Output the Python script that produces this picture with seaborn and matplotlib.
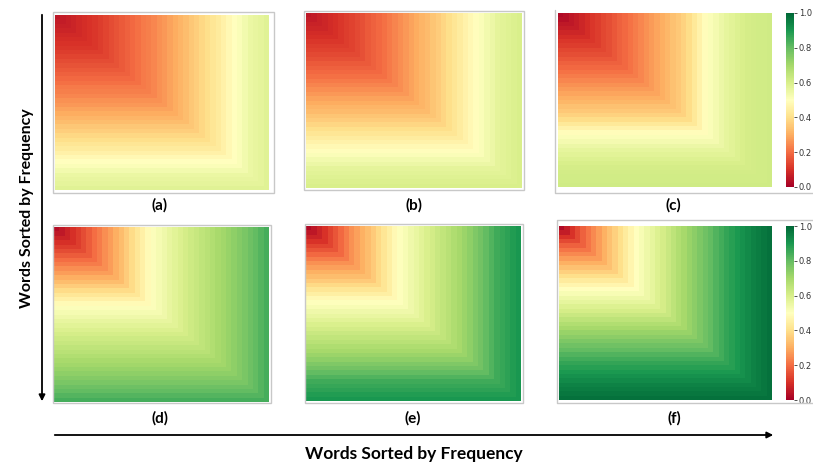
import numpy as np
import matplotlib
matplotlib.use("Agg")
import matplotlib.pyplot as plt
import seaborn as sns
from matplotlib.patches import Rectangle

sns.set_theme(style="white")
plt.rcParams["font.family"] = ["Lato", "DejaVu Sans"]

# valor por rango de palabra (0 = más frecuente, 40 rangos)
perfil_a = [0.050, 0.059, 0.068, 0.077, 0.086, 0.095, 0.104, 0.113, 0.122, 0.134,
            0.147, 0.159, 0.171, 0.183, 0.195, 0.207, 0.219, 0.230, 0.242, 0.254,
            0.268, 0.283, 0.298, 0.314, 0.331, 0.348, 0.366, 0.383, 0.401, 0.419,
            0.437, 0.457, 0.477, 0.497, 0.515, 0.534, 0.551, 0.561, 0.570, 0.580]
perfil_b = [0.050, 0.060, 0.071, 0.081, 0.091, 0.101, 0.112, 0.122, 0.132, 0.144,
            0.156, 0.168, 0.180, 0.192, 0.205, 0.221, 0.236, 0.252, 0.267, 0.282,
            0.298, 0.313, 0.328, 0.344, 0.362, 0.381, 0.400, 0.419, 0.438, 0.458,
            0.477, 0.496, 0.514, 0.532, 0.550, 0.568, 0.577, 0.585, 0.592, 0.600]
perfil_c = [0.020, 0.035, 0.051, 0.066, 0.081, 0.096, 0.110, 0.124, 0.138, 0.152,
            0.166, 0.180, 0.195, 0.210, 0.225, 0.241, 0.256, 0.272, 0.287, 0.302,
            0.319, 0.337, 0.355, 0.373, 0.398, 0.429, 0.460, 0.491, 0.513, 0.531,
            0.548, 0.566, 0.578, 0.588, 0.599, 0.609, 0.612, 0.615, 0.617, 0.620]
perfil_d = [0.030, 0.053, 0.076, 0.099, 0.123, 0.148, 0.174, 0.200, 0.225, 0.251,
            0.276, 0.302, 0.329, 0.360, 0.391, 0.422, 0.452, 0.483, 0.508, 0.525,
            0.542, 0.559, 0.576, 0.593, 0.608, 0.622, 0.636, 0.649, 0.663, 0.677,
            0.692, 0.707, 0.722, 0.738, 0.753, 0.768, 0.786, 0.804, 0.822, 0.840]
perfil_e = [0.020, 0.048, 0.076, 0.105, 0.133, 0.164, 0.195, 0.225, 0.255, 0.281,
            0.306, 0.332, 0.359, 0.388, 0.418, 0.448, 0.477, 0.504, 0.522, 0.540,
            0.558, 0.576, 0.595, 0.613, 0.630, 0.647, 0.664, 0.682, 0.699, 0.716,
            0.737, 0.759, 0.781, 0.803, 0.826, 0.848, 0.862, 0.874, 0.887, 0.900]
perfil_f = [0.020, 0.061, 0.102, 0.143, 0.183, 0.214, 0.245, 0.275, 0.306, 0.339,
            0.371, 0.401, 0.435, 0.467, 0.499, 0.520, 0.543, 0.565, 0.587, 0.609,
            0.631, 0.653, 0.676, 0.698, 0.720, 0.742, 0.763, 0.784, 0.804, 0.825,
            0.845, 0.866, 0.882, 0.898, 0.913, 0.928, 0.942, 0.954, 0.967, 0.980]

etiquetas = ["(a)", "(b)", "(c)", "(d)", "(e)", "(f)"]
perfiles = [perfil_a, perfil_b, perfil_c, perfil_d, perfil_e, perfil_f]
titulo_eje = "Words Sorted by Frequency"

W, H = 813, 463
fig = plt.figure(figsize=(W / 100, H / 100), dpi=100)


def caja(x0, y0, x1, y1):
    # de píxeles (origen arriba-izquierda) a fracción de figura
    return [x0 / W, 1 - y1 / H, (x1 - x0) / W, (y1 - y0) / H]


# posiciones en píxeles de cada mapa de calor
mapas = [(55, 15, 269, 190), (306, 13, 522, 188), (558, 13, 772, 187),
         (54, 227, 269, 402), (306, 226, 521, 401), (559, 226, 772, 400)]
barras = {2: (786, 13, 794, 187), 5: (786, 226, 794, 400)}

for i, (perfil, pos) in enumerate(zip(perfiles, mapas)):
    p = np.asarray(perfil)
    n = len(p)
    # celda (i, j) = valor del rango max(i, j)
    idx = np.maximum.outer(np.arange(n), np.arange(n))
    mat = p[idx]
    ax = fig.add_axes(caja(*pos))
    if i in barras:
        cax = fig.add_axes(caja(*barras[i]))
        sns.heatmap(mat, ax=ax, cmap="RdYlGn", vmin=0, vmax=1, cbar=True, cbar_ax=cax,
                    xticklabels=False, yticklabels=False)
        cax.set_yticks([0, 0.2, 0.4, 0.6, 0.8, 1.0])
        cax.set_yticklabels(["0.0", "0.2", "0.4", "0.6", "0.8", "1.0"], family="DejaVu Sans")
        cax.tick_params(axis="y", length=2.5, width=0.6, pad=1, labelsize=6, colors="#333333")
        cax.yaxis.set_ticks_position("right")
        for s in cax.spines.values():
            s.set_visible(False)
        ax.collections[0].colorbar.outline.set_visible(False)
    else:
        sns.heatmap(mat, ax=ax, cmap="RdYlGn", vmin=0, vmax=1, cbar=False,
                    xticklabels=False, yticklabels=False)
    ax.set_xlabel("")
    ax.set_ylabel("")

# capa superior para marcos, flechas y textos
ov = fig.add_axes([0, 0, 1, 1])
ov.set_xlim(0, W)
ov.set_ylim(H, 0)
ov.axis("off")

gris = "#c8c8c8"
for (x0, y0, x1, y1) in [(53, 12, 274, 193), (304, 11, 524, 190), (53, 225, 271, 403), (305, 224, 523, 403)]:
    ov.add_patch(Rectangle((x0, y0), x1 - x0, y1 - y0, fill=False, ec=gris, lw=1))
# marcos de (c) y (f) que salen por la derecha
ov.plot([555, 555, 813], [10, 193, 193], color=gris, lw=1)
ov.plot([813, 557, 557, 813], [220, 220, 403, 403], color=gris, lw=1)

centros = [(160, 205), (414, 205), (673, 205), (160, 418), (413, 418), (674, 418)]
for etq, (cx, cy) in zip(etiquetas, centros):
    ov.text(cx, cy, etq, ha="center", va="center", fontsize=11, fontweight="bold", color="black")

ov.annotate("", xy=(42, 404), xytext=(42, 12),
            arrowprops=dict(arrowstyle="-|>", color="black", lw=1.3, mutation_scale=9))
ov.annotate("", xy=(776, 435), xytext=(52, 435),
            arrowprops=dict(arrowstyle="-|>", color="black", lw=1.3, mutation_scale=9))

ov.text(27, 208, titulo_eje, rotation=90, ha="center", va="center", fontsize=11.5,
        fontweight="bold", color="black")
ov.text(414, 454, titulo_eje, ha="center", va="center", fontsize=12.5,
        fontweight="bold", color="black")

fig.savefig("out.png", dpi=100)
